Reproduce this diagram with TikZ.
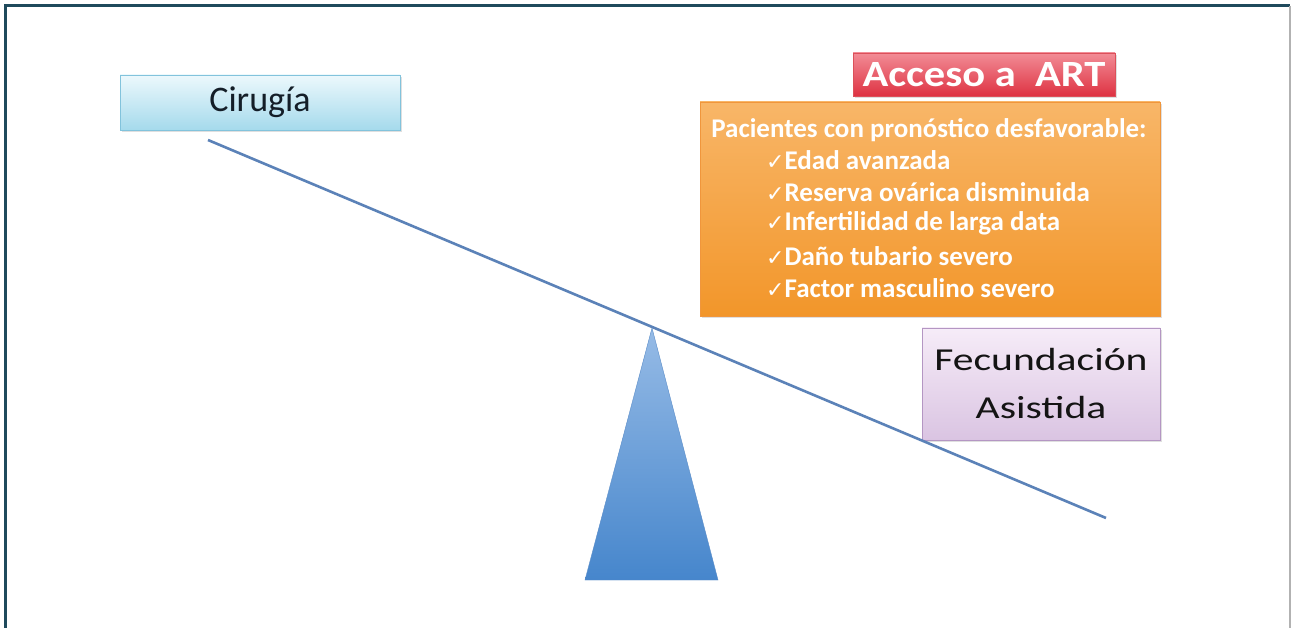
\documentclass[tikz,border=0pt]{standalone}
\usepackage{fontspec}
\setmainfont{Carlito}
\newfontfamily\fwide[FakeStretch=1.3]{Carlito}
\newfontfamily\fart[FakeStretch=1.15]{Carlito}
\newfontfamily\symf{DejaVu Sans}
\usetikzlibrary{shadows}
\definecolor{frame}{HTML}{1F4A5C}
\definecolor{beamc}{HTML}{5B82B8}
\tikzset{
  box/.style={draw, line width=0.6pt, inner sep=0pt, drop shadow={opacity=0.25, shadow xshift=2pt, shadow yshift=-2pt}},
  itm/.style={anchor=west, inner sep=0pt, text=white, font=\bfseries\fontsize{27}{30}\selectfont},
}
\newcommand{\ck}{{\symf\fontsize{22}{24}\selectfont\char"2713}}
\begin{document}
\begin{tikzpicture}[x=1pt,y=-1pt]
\useasboundingbox (0,0) rectangle (1291,628);
\fill[white] (0,0) rectangle (1291,628);
\draw[frame, line width=3pt] (5,628) -- (5,6) -- (1290,6);
\draw[gray!60, line width=1.5pt] (1290,6) -- (1290,628);

% fulcrum
\shade[top color={rgb,255:red,150;green,187;blue,230}, bottom color={rgb,255:red,70;green,134;blue,204}, draw={rgb,255:red,90;green,140;blue,200}, line width=0.4pt]
  (652,328) -- (718,580) -- (585,580) -- cycle;

% boxes
\node[box, draw={rgb,255:red,130;green,195;blue,220}, top color={rgb,255:red,236;green,248;blue,252}, bottom color={rgb,255:red,165;green,218;blue,236}, minimum width=280pt, minimum height=55pt, font=\fontsize{36}{38}\selectfont, text={rgb,255:red,20;green,30;blue,40}] (cir) at (260,102.5) {Cirugía};

\node[box, draw={rgb,255:red,220;green,80;blue,90}, top color={rgb,255:red,242;green,140;blue,150}, bottom color={rgb,255:red,222;green,50;blue,66}, minimum width=262pt, minimum height=43pt, font=\fart\bfseries\fontsize{37}{38}\selectfont, text=white] (art) at (984,74.5) {Acceso a\ \ ART};

\node[box, draw={rgb,255:red,240;green,150;blue,60}, top color={rgb,255:red,248;green,182;blue,104}, bottom color={rgb,255:red,242;green,150;blue,42}, minimum width=460pt, minimum height=214pt] (risk) at (930,209) {};

\node[itm, anchor=center] (hdr) at (929,130) {Pacientes con pronóstico desfavorable:};
\node[itm] (i1) at (766,160) {\ck Edad avanzada};
\node[itm] (i2) at (766,192) {\ck Reserva ovárica disminuida};
\node[itm] (i3) at (766,223) {\ck Infertilidad de larga data};
\node[itm] (i4) at (766,256) {\ck Daño tubario severo};
\node[itm] (i5) at (766,288) {\ck Factor masculino severo};

\node[box, draw={rgb,255:red,180;green,150;blue,195}, top color={rgb,255:red,246;green,236;blue,248}, bottom color={rgb,255:red,218;green,196;blue,226}, minimum width=238pt, minimum height=112pt, align=center, font=\fwide\fontsize{32}{48}\selectfont, text={rgb,255:red,20;green,20;blue,20}] (fec) at (1041,384) {Fecundación\\Asistida};

% beam
\coordinate (b1) at (208,140);
\coordinate (b2) at (1106,518);
\draw[beamc, line width=2.6pt] (b1) -- (b2);
\end{tikzpicture}
\end{document}
